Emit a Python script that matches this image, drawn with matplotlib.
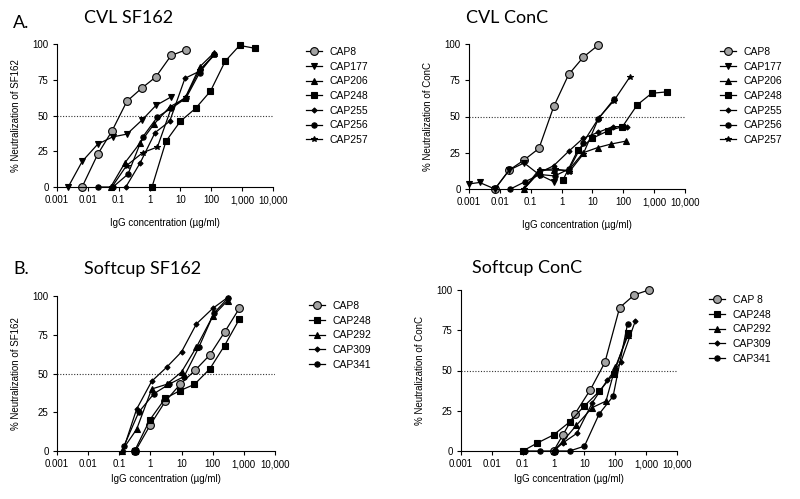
import matplotlib
matplotlib.use('Agg')
from matplotlib import pyplot as plt
from matplotlib.ticker import FixedLocator, NullLocator

plt.rcParams['font.family'] = ['Liberation Sans', 'DejaVu Sans']

# ---- data (x = ug/ml, y = % neutralization) ----
# A. CVL SF162
a1_cap8_x = [0.0065, 0.021, 0.06, 0.185, 0.55, 1.6, 5, 15.5]
a1_cap8_y = [0, 23, 39, 60, 69, 77, 92, 96]
a1_cap177_x = [0.0023, 0.0066, 0.021, 0.063, 0.185, 0.58, 1.6, 5]
a1_cap177_y = [0, 18, 30, 35, 37, 47, 57, 63]
a1_cap206_x = [0.055, 0.16, 0.5, 1.4, 4.5, 14, 42, 125]
a1_cap206_y = [0, 17, 31, 44, 56, 62, 84, 94]
a1_cap248_x = [1.2, 3.4, 10, 31, 94, 283, 830, 2600]
a1_cap248_y = [0, 32, 46, 55, 67, 88, 99, 97]
a1_cap255_x = [0.17, 0.5, 1.5, 4.5, 14, 42, 125]
a1_cap255_y = [0, 17, 38, 46, 76, 81, 93]
a1_cap256_x = [0.022, 0.065, 0.2, 0.6, 1.8, 5, 15, 42, 125]
a1_cap256_y = [0, 0, 9, 35, 49, 55, 62, 80, 93]
a1_cap257_x = [0.06, 0.18, 0.6, 1.8, 5, 15, 42, 125]
a1_cap257_y = [0, 15, 24, 28, 55, 63, 82, 92]

# A. CVL ConC
a2_cap8_x = [0.0069, 0.02, 0.061, 0.185, 0.56, 1.7, 5.1, 15]
a2_cap8_y = [0, 13, 20, 28, 57, 79, 91, 99]
a2_cap177_x = [0.001, 0.0022, 0.0069, 0.02, 0.061, 0.185, 0.56]
a2_cap177_y = [3.5, 4.5, 0, 13, 18, 10, 5]
a2_cap206_x = [0.06, 0.18, 0.55, 1.7, 5, 15, 40, 120]
a2_cap206_y = [0, 13, 13, 13, 25, 28.6, 31, 33]
a2_cap248_x = [1.1, 3.4, 10, 31, 94, 283, 830, 2600]
a2_cap248_y = [6, 27, 35, 40, 43, 58, 66, 67]
a2_cap255_x = [0.06, 0.18, 0.55, 1.7, 5, 15, 45, 130]
a2_cap255_y = [0, 11, 16, 26, 35, 39, 43, 43]
a2_cap256_x = [0.022, 0.065, 0.2, 0.6, 1.8, 5, 15, 50]
a2_cap256_y = [0, 5, 10, 9, 14, 32, 48, 62]
a2_cap257_x = [0.06, 0.2, 0.6, 1.8, 5, 16, 50, 160]
a2_cap257_y = [0, 13, 14, 12, 24, 49, 61, 77]

# B. Softcup SF162
b1_cap8_x = [0.33, 1, 3, 9, 27, 81, 246, 715]
b1_cap8_y = [0, 17, 32, 43, 52, 62, 77, 92]
b1_cap248_x = [0.31, 0.95, 3, 9, 26, 81, 240, 715]
b1_cap248_y = [0, 20, 34, 39, 43, 53, 68, 85]
b1_cap292_x = [0.12, 0.36, 1.1, 3.3, 10, 30, 100, 300]
b1_cap292_y = [0, 14, 40, 43, 51, 67, 87, 97]
b1_cap309_x = [0.13, 0.36, 1.1, 3.3, 10, 30, 100, 300]
b1_cap309_y = [0, 27, 45, 54, 64, 82, 92, 99]
b1_cap341_x = [0.14, 0.42, 1.3, 3.9, 12, 36, 110, 320]
b1_cap341_y = [3, 25, 37, 43, 48, 67, 89, 99]

# B. Softcup ConC
b2_cap8_x = [1, 2, 4.9, 15.5, 46, 138, 415, 1230]
b2_cap8_y = [0, 10, 23, 38, 55, 89, 97, 100]
b2_cap248_x = [0.1, 0.3, 1, 3.3, 10, 30, 90, 250]
b2_cap248_y = [0, 5, 10, 18, 28, 37, 48, 73]
b2_cap292_x = [1, 2, 5.5, 18, 50, 100, 260]
b2_cap292_y = [0, 6, 16, 27, 31, 52, 72]
b2_cap309_x = [1, 2, 5.7, 18, 55, 150, 450]
b2_cap309_y = [0, 5, 11, 30, 44, 55, 81]
b2_cap341_x = [0.12, 0.37, 1.1, 3.3, 10, 30, 85, 250]
b2_cap341_y = [0, 0, 0, 0, 3, 23, 34, 79]

x_ticks = [0.001, 0.01, 0.1, 1, 10, 100, 1000, 10000]
x_tick_labels = ['0.001', '0.01', '0.1', '1', '10', '100', '1,000', '10,000']
y_ticks = [0, 25, 50, 75, 100]

# marker styles: (marker, size, face)
styles = {
    'circle_gray': ('o', 5.6, '#a3a3a3'),
    'tri_down': ('v', 4.2, 'black'),
    'tri_up': ('^', 4.2, 'black'),
    'square': ('s', 4.5, 'black'),
    'diamond': ('D', 2.6, 'black'),
    'circle': ('o', 3.8, 'black'),
    'star': ('*', 4.2, 'black'),
}


def draw_series(ax, series):
    handles = []
    for label, xs, ys, style in series:
        m, ms, fc = styles[style]
        line, = ax.plot(xs, ys, color='black', lw=0.9, marker=m, ms=ms,
                        mfc=fc, mec='black', mew=0.8, clip_on=False,
                        label=label)
        handles.append(line)
    return handles


def format_axes(ax, ylabel, xlabel_pad):
    ax.set_xscale('log')
    ax.set_xlim(0.001, 10000)
    ax.set_ylim(0, 100)
    ax.xaxis.set_major_locator(FixedLocator(x_ticks))
    ax.xaxis.set_minor_locator(NullLocator())
    ax.set_xticklabels(x_tick_labels)
    ax.set_yticks(y_ticks)
    ax.axhline(50, color='#333333', lw=0.8, ls=(0, (1, 1.5)), zorder=0)
    for side in ['top', 'right']:
        ax.spines[side].set_visible(False)
    for side in ['left', 'bottom']:
        ax.spines[side].set_linewidth(0.8)
    ax.tick_params(direction='out', length=3, width=0.8, labelsize=7, pad=3)
    ax.set_xlabel('IgG concentration (\u00b5g/ml)', fontsize=7, labelpad=xlabel_pad)
    ax.set_ylabel(ylabel, fontsize=7, labelpad=8)


W, H = 800, 499
fig = plt.figure(figsize=(8, 4.99), dpi=100)


def add_ax(left, top, right, bottom):
    return fig.add_axes([left / W, 1 - bottom / H, (right - left) / W, (bottom - top) / H])


ax1 = add_ax(57, 44, 273, 187)
ax2 = add_ax(469, 44, 685, 189)
ax3 = add_ax(57, 296, 275, 451)
ax4 = add_ax(461, 290, 677, 451)

h1 = draw_series(ax1, [
    ('CAP8', a1_cap8_x, a1_cap8_y, 'circle_gray'),
    ('CAP177', a1_cap177_x, a1_cap177_y, 'tri_down'),
    ('CAP206', a1_cap206_x, a1_cap206_y, 'tri_up'),
    ('CAP248', a1_cap248_x, a1_cap248_y, 'square'),
    ('CAP255', a1_cap255_x, a1_cap255_y, 'diamond'),
    ('CAP256', a1_cap256_x, a1_cap256_y, 'circle'),
    ('CAP257', a1_cap257_x, a1_cap257_y, 'star'),
])
h2 = draw_series(ax2, [
    ('CAP8', a2_cap8_x, a2_cap8_y, 'circle_gray'),
    ('CAP177', a2_cap177_x, a2_cap177_y, 'tri_down'),
    ('CAP206', a2_cap206_x, a2_cap206_y, 'tri_up'),
    ('CAP248', a2_cap248_x, a2_cap248_y, 'square'),
    ('CAP255', a2_cap255_x, a2_cap255_y, 'diamond'),
    ('CAP256', a2_cap256_x, a2_cap256_y, 'circle'),
    ('CAP257', a2_cap257_x, a2_cap257_y, 'star'),
])
h3 = draw_series(ax3, [
    ('CAP8', b1_cap8_x, b1_cap8_y, 'circle_gray'),
    ('CAP248', b1_cap248_x, b1_cap248_y, 'square'),
    ('CAP292', b1_cap292_x, b1_cap292_y, 'tri_up'),
    ('CAP309', b1_cap309_x, b1_cap309_y, 'diamond'),
    ('CAP341', b1_cap341_x, b1_cap341_y, 'circle'),
])
h4 = draw_series(ax4, [
    ('CAP 8', b2_cap8_x, b2_cap8_y, 'circle_gray'),
    ('CAP248', b2_cap248_x, b2_cap248_y, 'square'),
    ('CAP292', b2_cap292_x, b2_cap292_y, 'tri_up'),
    ('CAP309', b2_cap309_x, b2_cap309_y, 'diamond'),
    ('CAP341', b2_cap341_x, b2_cap341_y, 'circle'),
])

format_axes(ax1, '% Neutralization of SF162', 9)
format_axes(ax2, '% Neutralization of ConC', 9)
format_axes(ax3, '% Neutralization of SF162', 3)
format_axes(ax4, '% Neutralization of ConC', 3)

# legends, placed to the right of each panel
for handles, lx, ly in [(h1, 306, 47), (h2, 720, 47), (h3, 309, 301), (h4, 709, 295)]:
    fig.legend(handles=handles, loc='upper left', bbox_to_anchor=(lx / W, 1 - ly / H),
               frameon=False, fontsize=7.5, handlelength=1.5, handletextpad=0.8,
               labelspacing=0.45, borderpad=0, borderaxespad=0)

# panel letters and titles
title_font = dict(family=['Lato', 'DejaVu Sans'], fontsize=13)
fig.text(13 / W, 1 - 28 / H, 'A.', **title_font)
fig.text(84 / W, 1 - 23 / H, 'CVL SF162', **title_font)
fig.text(466 / W, 1 - 23 / H, 'CVL ConC', **title_font)
fig.text(13 / W, 1 - 274 / H, 'B.', **title_font)
fig.text(84 / W, 1 - 274 / H, 'Softcup SF162', **title_font)
fig.text(472 / W, 1 - 273 / H, 'Softcup ConC', **title_font)

plt.savefig('out.png', dpi=100)
